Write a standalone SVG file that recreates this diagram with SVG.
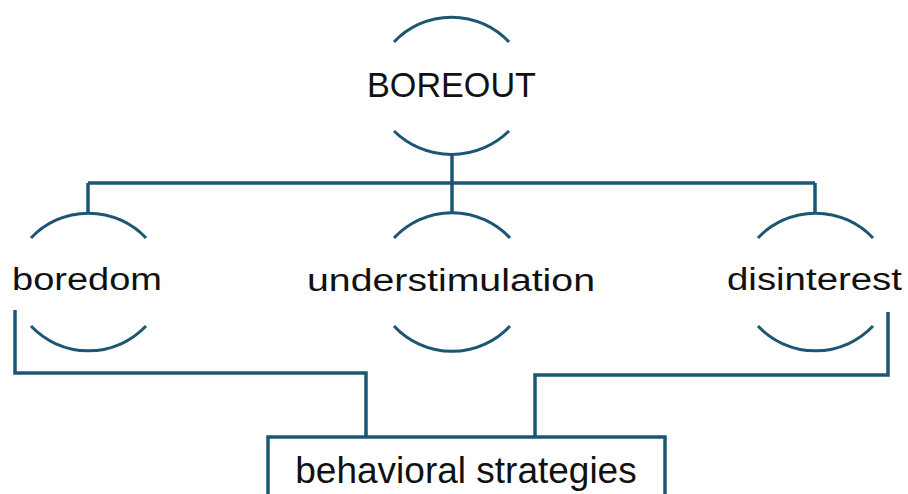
<svg xmlns="http://www.w3.org/2000/svg" width="908" height="494" viewBox="0 0 908 494">
<style>
.arc{fill:none;stroke:#1d5673;stroke-width:3;stroke-linecap:butt}
.con{fill:none;stroke:#1d5673;stroke-width:3.5;stroke-linejoin:miter}
.lbl{font-family:"Liberation Sans",Arial,sans-serif;fill:#111;text-anchor:middle}
</style>
<rect width="908" height="494" fill="#fff"/>
<g id="connectors">
<path class="con" d="M452,154 V213"/>
<path class="con" d="M88,183 H815"/>
<path class="con" d="M88,183 V213"/>
<path class="con" d="M815,183 V213"/>
<path class="con" d="M15,310 V373 H366 V437"/>
<path class="con" d="M888,312 V375 H535 V437"/>
</g>
<g id="boreout">
<path class="arc" d="M394,42 A79,79 0 0 1 509,42"/>
<path class="arc" d="M394,131 A82,82 0 0 0 509,131"/>
<text class="lbl" x="451.5" y="97" font-size="35" textLength="169" lengthAdjust="spacingAndGlyphs">BOREOUT</text>
</g>
<g id="boredom">
<path class="arc" d="M31,238 A79,79 0 0 1 146,238"/>
<path class="arc" d="M31,326 A79,79 0 0 0 146,326"/>
<text class="lbl" x="87" y="290" font-size="31" textLength="150" lengthAdjust="spacingAndGlyphs">boredom</text>
</g>
<g id="understimulation">
<path class="arc" d="M394,238 A79,79 0 0 1 510,238"/>
<path class="arc" d="M394,326 A79,79 0 0 0 510,326"/>
<text class="lbl" x="451" y="291" font-size="31" textLength="288" lengthAdjust="spacingAndGlyphs">understimulation</text>
</g>
<g id="disinterest">
<path class="arc" d="M758,238 A79,79 0 0 1 873,238"/>
<path class="arc" d="M758,326 A79,79 0 0 0 873,326"/>
<text class="lbl" x="814.5" y="290" font-size="31" textLength="175" lengthAdjust="spacingAndGlyphs">disinterest</text>
</g>
<g id="behavioral-strategies">
<rect x="268" y="437" width="397" height="70" fill="#fff" stroke="#1d5673" stroke-width="3.5"/>
<text class="lbl" x="466" y="483" font-size="37">behavioral strategies</text>
</g>
</svg>
